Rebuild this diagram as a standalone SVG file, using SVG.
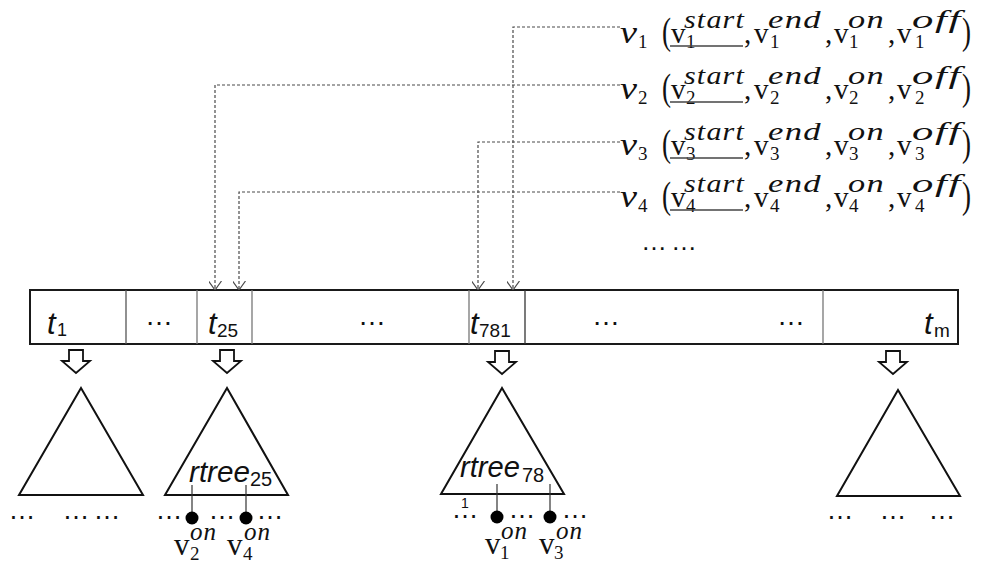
<svg xmlns="http://www.w3.org/2000/svg" width="984" height="564" viewBox="0 0 984 564">
  <style>
    .bar { fill: #fff; stroke: #1a1a1a; stroke-width: 2; }
    .div { stroke: #777; stroke-width: 1.3; }
    .tri { fill: #fff; stroke: #111; stroke-width: 2; }
    .blk { fill: #fff; stroke: #111; stroke-width: 1.8; stroke-linejoin: miter; }
    .dash { fill: none; stroke: #4a4a4a; stroke-width: 1.2; stroke-dasharray: 3 2; }
    .stem { stroke: #333; stroke-width: 1.2; }
    .dot { fill: #000; }
    .sans { font-family: "Liberation Sans", Arial, sans-serif; fill: #111; }
    .it { font-style: italic; }
    .mathv { font-family: "Liberation Serif", serif; font-style: italic; font-size: 32px; fill: #111; }
    .up { font-family: "Liberation Serif", serif; font-size: 29px; fill: #111; }
    .upl { font-family: "Liberation Serif", serif; font-size: 31px; fill: #111; }
    .sup { font-family: "Liberation Serif", serif; font-style: italic; font-size: 26px; letter-spacing: 1px; fill: #111; }
    .sub { font-family: "Liberation Serif", serif; font-size: 19px; fill: #111; }
    .par { font-family: "Liberation Serif", serif; font-size: 38px; fill: #111; }
    .ell { font-family: "Liberation Sans", sans-serif; fill: #111; text-anchor: middle; }
    .uline { stroke: #444; stroke-width: 1.4; }
  </style>
  <defs>
    <marker id="vhead" viewBox="0 0 10 10" refX="10" refY="5" markerWidth="9" markerHeight="13" markerUnits="userSpaceOnUse" orient="auto" preserveAspectRatio="none">
      <path d="M0,0 L10,5 L0,10" fill="none" stroke="#4a4a4a" stroke-width="1.2" vector-effect="non-scaling-stroke"/>
    </marker>
  </defs>

  <!-- time-slot array -->
  <g id="timeline">
    <rect class="bar" x="30" y="290" width="928" height="54"/>
    <line class="div" x1="126" y1="290" x2="126" y2="344" style="stroke:#555"/>
    <line class="div" x1="197" y1="290" x2="197" y2="344"/>
    <line class="div" x1="252" y1="290" x2="252" y2="344"/>
    <line class="div" x1="469" y1="290" x2="469" y2="344"/>
    <line class="div" x1="525" y1="290" x2="525" y2="344" style="stroke:#333"/>
    <line class="div" x1="823" y1="290" x2="823" y2="344"/>
    <text class="sans it" x="47" y="334" font-size="31">t</text>
    <text class="sans" x="57" y="336" font-size="18">1</text>
    <text class="ell" x="159" y="325" font-size="28">…</text>
    <text class="sans it" x="208" y="334" font-size="31">t</text>
    <text class="sans" x="217" y="337" font-size="19">25</text>
    <text class="ell" x="372" y="325" font-size="28">…</text>
    <text class="sans it" x="470" y="334" font-size="31">t</text>
    <text class="sans" x="479" y="337" font-size="19">781</text>
    <text class="ell" x="606" y="325" font-size="28">…</text>
    <text class="ell" x="791" y="325" font-size="28">…</text>
    <text class="sans it" x="924" y="334" font-size="31">t</text>
    <text class="sans" x="934" y="337" font-size="19">m</text>
  </g>

  <!-- hollow block arrows from slots to trees -->
  <g id="slot-arrows">
    <polygon class="blk" points="69,350 83,350 83,361 90,361 76,373 62,361 69,361"/>
    <polygon class="blk" points="220,350 234,350 234,361 241,361 227,373 213,361 220,361"/>
    <polygon class="blk" points="495,351 509,351 509,362 516,362 502,374 488,362 495,362"/>
    <polygon class="blk" points="886,351 900,351 900,362 907,362 893,374 879,362 886,362"/>
  </g>

  <!-- tree for t1 -->
  <g id="tree-1">
    <polygon class="tri" points="81,388 143,495 19,495"/>
    <text class="ell" x="22" y="519" font-size="27">…</text>
    <text class="ell" x="76" y="519" font-size="27">…</text>
    <text class="ell" x="107" y="519" font-size="27">…</text>
  </g>

  <!-- rtree for t25 -->
  <g id="tree-25">
    <polygon class="tri" points="227,388 288,495 165,495"/>
    <text class="sans it" x="189" y="482" font-size="29" textLength="61" lengthAdjust="spacingAndGlyphs">rtree</text>
    <text class="sans" x="250" y="486" font-size="20">25</text>
    <line class="stem" x1="192" y1="485" x2="192" y2="512"/>
    <line class="stem" x1="246" y1="485" x2="246" y2="512"/>
    <circle class="dot" cx="192" cy="518" r="6.5"/>
    <circle class="dot" cx="246" cy="518" r="6.5"/>
    <text class="ell" x="169" y="519" font-size="27">…</text>
    <text class="ell" x="222" y="519" font-size="27">…</text>
    <text class="ell" x="270" y="519" font-size="27">…</text>
    <text class="upl" x="174" y="555">v</text>
    <text class="sup" x="190" y="540" textLength="27" lengthAdjust="spacingAndGlyphs">on</text>
    <text class="sub" x="190" y="560">2</text>
    <text class="upl" x="227" y="555">v</text>
    <text class="sup" x="244" y="540" textLength="27" lengthAdjust="spacingAndGlyphs">on</text>
    <text class="sub" x="243" y="560">4</text>
  </g>

  <!-- rtree for t781 -->
  <g id="tree-781">
    <polygon class="tri" points="502,388 564,494 441,494"/>
    <text class="sans it" x="460" y="477" font-size="29" textLength="60" lengthAdjust="spacingAndGlyphs">rtree</text>
    <text class="sans" x="522" y="482" font-size="20">78</text>
    <text class="sans" x="461" y="508" font-size="14">1</text>
    <line class="stem" x1="497" y1="484" x2="497" y2="511"/>
    <line class="stem" x1="550" y1="484" x2="550" y2="511"/>
    <circle class="dot" cx="497" cy="517" r="6.5"/>
    <circle class="dot" cx="550" cy="517" r="6.5"/>
    <text class="ell" x="465" y="518" font-size="27">…</text>
    <text class="ell" x="522" y="518" font-size="27">…</text>
    <text class="ell" x="575" y="518" font-size="27">…</text>
    <text class="upl" x="485" y="554">v</text>
    <text class="sup" x="501" y="539" textLength="27" lengthAdjust="spacingAndGlyphs">on</text>
    <text class="sub" x="500" y="559">1</text>
    <text class="upl" x="539" y="554">v</text>
    <text class="sup" x="556" y="539" textLength="27" lengthAdjust="spacingAndGlyphs">on</text>
    <text class="sub" x="554" y="559">3</text>
  </g>

  <!-- tree for tm -->
  <g id="tree-m">
    <polygon class="tri" points="898,390 960,496 837,496"/>
    <text class="ell" x="840" y="519" font-size="27">…</text>
    <text class="ell" x="893" y="519" font-size="27">…</text>
    <text class="ell" x="942" y="519" font-size="27">…</text>
  </g>

  <!-- object tuples -->
  <g id="obj-1">
    <text class="mathv" x="620" y="43" textLength="17" lengthAdjust="spacingAndGlyphs">v</text>
    <text class="sub" x="638" y="48">1</text>
    <text class="par" x="662" y="44" textLength="9" lengthAdjust="spacingAndGlyphs">(</text>
    <text class="up" x="671" y="43">v</text>
    <text class="sup" x="684" y="28" textLength="61" lengthAdjust="spacingAndGlyphs">start</text>
    <text class="sub" x="686" y="48">1</text>
    <line class="uline" x1="670" y1="46" x2="743" y2="46"/>
    <text class="up" x="744" y="43">,</text>
    <text class="up" x="754" y="43">v</text>
    <text class="sup" x="768" y="28" textLength="54" lengthAdjust="spacingAndGlyphs">end</text>
    <text class="sub" x="770" y="48">1</text>
    <text class="up" x="825" y="43">,</text>
    <text class="up" x="834" y="43">v</text>
    <text class="sup" x="848" y="28" textLength="37" lengthAdjust="spacingAndGlyphs">on</text>
    <text class="sub" x="849" y="48">1</text>
    <text class="up" x="888" y="43">,</text>
    <text class="up" x="897" y="43">v</text>
    <text class="sup" x="912" y="28" textLength="50" lengthAdjust="spacingAndGlyphs">off</text>
    <text class="sub" x="915" y="48">1</text>
    <text class="par" x="962" y="44" textLength="9" lengthAdjust="spacingAndGlyphs">)</text>
  </g>
  <g id="obj-2">
    <text class="mathv" x="620" y="99" textLength="17" lengthAdjust="spacingAndGlyphs">v</text>
    <text class="sub" x="638" y="104">2</text>
    <text class="par" x="662" y="100" textLength="9" lengthAdjust="spacingAndGlyphs">(</text>
    <text class="up" x="671" y="99">v</text>
    <text class="sup" x="684" y="84" textLength="61" lengthAdjust="spacingAndGlyphs">start</text>
    <text class="sub" x="686" y="104">2</text>
    <line class="uline" x1="670" y1="102" x2="743" y2="102"/>
    <text class="up" x="744" y="99">,</text>
    <text class="up" x="754" y="99">v</text>
    <text class="sup" x="768" y="84" textLength="54" lengthAdjust="spacingAndGlyphs">end</text>
    <text class="sub" x="770" y="104">2</text>
    <text class="up" x="825" y="99">,</text>
    <text class="up" x="834" y="99">v</text>
    <text class="sup" x="848" y="84" textLength="37" lengthAdjust="spacingAndGlyphs">on</text>
    <text class="sub" x="849" y="104">2</text>
    <text class="up" x="888" y="99">,</text>
    <text class="up" x="897" y="99">v</text>
    <text class="sup" x="912" y="84" textLength="50" lengthAdjust="spacingAndGlyphs">off</text>
    <text class="sub" x="915" y="104">2</text>
    <text class="par" x="962" y="100" textLength="9" lengthAdjust="spacingAndGlyphs">)</text>
  </g>
  <g id="obj-3">
    <text class="mathv" x="620" y="155" textLength="17" lengthAdjust="spacingAndGlyphs">v</text>
    <text class="sub" x="638" y="160">3</text>
    <text class="par" x="662" y="156" textLength="9" lengthAdjust="spacingAndGlyphs">(</text>
    <text class="up" x="671" y="155">v</text>
    <text class="sup" x="684" y="140" textLength="61" lengthAdjust="spacingAndGlyphs">start</text>
    <text class="sub" x="686" y="160">3</text>
    <line class="uline" x1="670" y1="158" x2="743" y2="158"/>
    <text class="up" x="744" y="155">,</text>
    <text class="up" x="754" y="155">v</text>
    <text class="sup" x="768" y="140" textLength="54" lengthAdjust="spacingAndGlyphs">end</text>
    <text class="sub" x="770" y="160">3</text>
    <text class="up" x="825" y="155">,</text>
    <text class="up" x="834" y="155">v</text>
    <text class="sup" x="848" y="140" textLength="37" lengthAdjust="spacingAndGlyphs">on</text>
    <text class="sub" x="849" y="160">3</text>
    <text class="up" x="888" y="155">,</text>
    <text class="up" x="897" y="155">v</text>
    <text class="sup" x="912" y="140" textLength="50" lengthAdjust="spacingAndGlyphs">off</text>
    <text class="sub" x="915" y="160">3</text>
    <text class="par" x="962" y="156" textLength="9" lengthAdjust="spacingAndGlyphs">)</text>
  </g>
  <g id="obj-4">
    <text class="mathv" x="620" y="207" textLength="17" lengthAdjust="spacingAndGlyphs">v</text>
    <text class="sub" x="638" y="212">4</text>
    <text class="par" x="662" y="208" textLength="9" lengthAdjust="spacingAndGlyphs">(</text>
    <text class="up" x="671" y="207">v</text>
    <text class="sup" x="684" y="192" textLength="61" lengthAdjust="spacingAndGlyphs">start</text>
    <text class="sub" x="686" y="212">4</text>
    <line class="uline" x1="670" y1="210" x2="743" y2="210"/>
    <text class="up" x="744" y="207">,</text>
    <text class="up" x="754" y="207">v</text>
    <text class="sup" x="768" y="192" textLength="54" lengthAdjust="spacingAndGlyphs">end</text>
    <text class="sub" x="770" y="212">4</text>
    <text class="up" x="825" y="207">,</text>
    <text class="up" x="834" y="207">v</text>
    <text class="sup" x="848" y="192" textLength="37" lengthAdjust="spacingAndGlyphs">on</text>
    <text class="sub" x="849" y="212">4</text>
    <text class="up" x="888" y="207">,</text>
    <text class="up" x="897" y="207">v</text>
    <text class="sup" x="912" y="192" textLength="50" lengthAdjust="spacingAndGlyphs">off</text>
    <text class="sub" x="915" y="212">4</text>
    <text class="par" x="962" y="208" textLength="9" lengthAdjust="spacingAndGlyphs">)</text>
  </g>
  <g id="obj-more">
    <text class="ell" x="654" y="250" font-size="26">…</text>
    <text class="ell" x="684" y="250" font-size="26">…</text>
  </g>

  <!-- start-slot connectors -->
  <g id="connectors">
    <path class="dash" d="M620,27 H513 V290" marker-end="url(#vhead)"/>
    <path class="dash" d="M620,85 H215 V290" marker-end="url(#vhead)"/>
    <path class="dash" d="M620,142 H478 V290" marker-end="url(#vhead)"/>
    <path class="dash" d="M620,192 H239 V290" marker-end="url(#vhead)"/>
  </g>
</svg>
